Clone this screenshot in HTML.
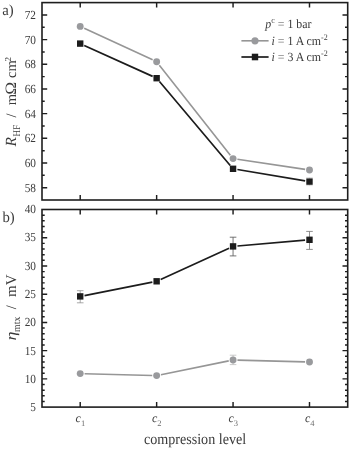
<!DOCTYPE html>
<html lang="en">
<head>
<meta charset="utf-8">
<title>Compression level figure</title>
<style>
html,body{margin:0;padding:0;background:#fff;}
body{width:350px;height:450px;overflow:hidden;}
svg{display:block;will-change:transform;}
.t text, .t tspan{font-family:"Liberation Serif","DejaVu Serif",serif;text-rendering:geometricPrecision;}
</style>
</head>
<body>
<svg width="350" height="450" viewBox="0 0 350 450">
<rect x="0" y="0" width="350" height="450" fill="#ffffff"/>
<rect x="42.0" y="2.6" width="305.70" height="197.40" fill="none" stroke="#1e1e1e" stroke-width="1.6"/>
<path d="M80.21 2.6v5M80.21 200.0v-5M156.64 2.6v5M156.64 200.0v-5M233.06 2.6v5M233.06 200.0v-5M309.49 2.6v5M309.49 200.0v-5M42.0 187.66h5.2M347.7 187.66h-5.2M42.0 162.99h5.2M347.7 162.99h-5.2M42.0 138.31h5.2M347.7 138.31h-5.2M42.0 113.64h5.2M347.7 113.64h-5.2M42.0 88.96h5.2M347.7 88.96h-5.2M42.0 64.29h5.2M347.7 64.29h-5.2M42.0 39.61h5.2M347.7 39.61h-5.2M42.0 14.94h5.2M347.7 14.94h-5.2M42.0 175.32h2.7M347.7 175.32h-2.7M42.0 150.65h2.7M347.7 150.65h-2.7M42.0 125.97h2.7M347.7 125.97h-2.7M42.0 101.30h2.7M347.7 101.30h-2.7M42.0 76.62h2.7M347.7 76.62h-2.7M42.0 51.95h2.7M347.7 51.95h-2.7M42.0 27.28h2.7M347.7 27.28h-2.7" fill="none" stroke="#1e1e1e" stroke-width="1.45"/>
<rect x="42.0" y="209.5" width="305.70" height="197.60" fill="none" stroke="#1e1e1e" stroke-width="1.6"/>
<path d="M80.21 209.5v5M80.21 407.1v-5M156.64 209.5v5M156.64 407.1v-5M233.06 209.5v5M233.06 407.1v-5M309.49 209.5v5M309.49 407.1v-5M42.0 378.87h5.2M347.7 378.87h-5.2M42.0 350.64h5.2M347.7 350.64h-5.2M42.0 322.41h5.2M347.7 322.41h-5.2M42.0 294.19h5.2M347.7 294.19h-5.2M42.0 265.96h5.2M347.7 265.96h-5.2M42.0 237.73h5.2M347.7 237.73h-5.2M42.0 401.45h2.7M347.7 401.45h-2.7M42.0 395.81h2.7M347.7 395.81h-2.7M42.0 390.16h2.7M347.7 390.16h-2.7M42.0 384.52h2.7M347.7 384.52h-2.7M42.0 373.23h2.7M347.7 373.23h-2.7M42.0 367.58h2.7M347.7 367.58h-2.7M42.0 361.93h2.7M347.7 361.93h-2.7M42.0 356.29h2.7M347.7 356.29h-2.7M42.0 345.00h2.7M347.7 345.00h-2.7M42.0 339.35h2.7M347.7 339.35h-2.7M42.0 333.71h2.7M347.7 333.71h-2.7M42.0 328.06h2.7M347.7 328.06h-2.7M42.0 316.77h2.7M347.7 316.77h-2.7M42.0 311.12h2.7M347.7 311.12h-2.7M42.0 305.48h2.7M347.7 305.48h-2.7M42.0 299.83h2.7M347.7 299.83h-2.7M42.0 288.54h2.7M347.7 288.54h-2.7M42.0 282.89h2.7M347.7 282.89h-2.7M42.0 277.25h2.7M347.7 277.25h-2.7M42.0 271.60h2.7M347.7 271.60h-2.7M42.0 260.31h2.7M347.7 260.31h-2.7M42.0 254.67h2.7M347.7 254.67h-2.7M42.0 249.02h2.7M347.7 249.02h-2.7M42.0 243.37h2.7M347.7 243.37h-2.7M42.0 232.08h2.7M347.7 232.08h-2.7M42.0 226.44h2.7M347.7 226.44h-2.7M42.0 220.79h2.7M347.7 220.79h-2.7M42.0 215.15h2.7M347.7 215.15h-2.7" fill="none" stroke="#1e1e1e" stroke-width="1.45"/>
<g class="t">
<text transform="translate(36.0,191.66) scale(0.92,1)" font-size="12.3" text-anchor="end" fill="#3a3a3a">58</text>
<text transform="translate(36.0,166.99) scale(0.92,1)" font-size="12.3" text-anchor="end" fill="#3a3a3a">60</text>
<text transform="translate(36.0,142.31) scale(0.92,1)" font-size="12.3" text-anchor="end" fill="#3a3a3a">62</text>
<text transform="translate(36.0,117.64) scale(0.92,1)" font-size="12.3" text-anchor="end" fill="#3a3a3a">64</text>
<text transform="translate(36.0,92.96) scale(0.92,1)" font-size="12.3" text-anchor="end" fill="#3a3a3a">66</text>
<text transform="translate(36.0,68.29) scale(0.92,1)" font-size="12.3" text-anchor="end" fill="#3a3a3a">68</text>
<text transform="translate(36.0,43.61) scale(0.92,1)" font-size="12.3" text-anchor="end" fill="#3a3a3a">70</text>
<text transform="translate(36.0,18.94) scale(0.92,1)" font-size="12.3" text-anchor="end" fill="#3a3a3a">72</text>
<text transform="translate(36.0,411.10) scale(0.92,1)" font-size="12.3" text-anchor="end" fill="#3a3a3a">5</text>
<text transform="translate(36.0,382.87) scale(0.92,1)" font-size="12.3" text-anchor="end" fill="#3a3a3a">10</text>
<text transform="translate(36.0,354.64) scale(0.92,1)" font-size="12.3" text-anchor="end" fill="#3a3a3a">15</text>
<text transform="translate(36.0,326.41) scale(0.92,1)" font-size="12.3" text-anchor="end" fill="#3a3a3a">20</text>
<text transform="translate(36.0,298.19) scale(0.92,1)" font-size="12.3" text-anchor="end" fill="#3a3a3a">25</text>
<text transform="translate(36.0,269.96) scale(0.92,1)" font-size="12.3" text-anchor="end" fill="#3a3a3a">30</text>
<text transform="translate(36.0,241.23) scale(0.92,1)" font-size="12.3" text-anchor="end" fill="#3a3a3a">35</text>
<text transform="translate(36.0,213.00) scale(0.92,1)" font-size="12.3" text-anchor="end" fill="#3a3a3a">40</text>
<text x="75.61" y="422.3" font-size="12" fill="#3a3a3a"><tspan font-style="italic">c</tspan><tspan font-size="8.5" dy="3.6" style="fill:#6e6e6e;stroke:none">1</tspan></text>
<text x="152.04" y="422.3" font-size="12" fill="#3a3a3a"><tspan font-style="italic">c</tspan><tspan font-size="8.5" dy="3.6" style="fill:#6e6e6e;stroke:none">2</tspan></text>
<text x="228.46" y="422.3" font-size="12" fill="#3a3a3a"><tspan font-style="italic">c</tspan><tspan font-size="8.5" dy="3.6" style="fill:#6e6e6e;stroke:none">3</tspan></text>
<text x="304.89" y="422.3" font-size="12" fill="#3a3a3a"><tspan font-style="italic">c</tspan><tspan font-size="8.5" dy="3.6" style="fill:#6e6e6e;stroke:none">4</tspan></text>
<text transform="translate(195,443.60) scale(0.91,1)" font-size="15.5" text-anchor="middle" fill="#3a3a3a">compression level</text>
<text transform="translate(2.2,15.40) scale(0.96,1)" font-size="15.3" text-anchor="start" fill="#3a3a3a">a)</text>
<text transform="translate(2.4,222.30) scale(0.96,1)" font-size="15.3" text-anchor="start" fill="#3a3a3a">b)</text>
<text transform="translate(15.7,146.5) rotate(-90) scale(1.0,1)" font-size="15.5" font-style="italic" fill="#3a3a3a">R</text>
<text transform="translate(19.599999999999998,136.4) rotate(-90) scale(0.88,1)" font-size="10.3" fill="#3a3a3a">HF</text>
<text transform="translate(15.7,117.4) rotate(-90) scale(1.0,1)" font-size="14.5" fill="#3a3a3a">/</text>
<text transform="translate(15.7,105.3) rotate(-90) scale(1.0,1)" font-size="14.5" fill="#3a3a3a">m</text>
<text transform="translate(15.7,94.7) rotate(-90) scale(1.1,1)" font-size="15.8" fill="#3a3a3a">Ω</text>
<text transform="translate(15.7,77.9) rotate(-90) scale(1.0,1)" font-size="14.5" fill="#3a3a3a">cm</text>
<text transform="translate(10.5,61.4) rotate(-90) scale(1.0,1)" font-size="9" fill="#3a3a3a">2</text>
<text transform="translate(15.7,340.4) rotate(-90) scale(1.2,1)" font-size="15" font-style="italic" fill="#3a3a3a">η</text>
<text transform="translate(19.799999999999997,331.9) rotate(-90) scale(0.95,1)" font-size="10.3" fill="#3a3a3a">mtx</text>
<text transform="translate(15.7,309.3) rotate(-90) scale(1.0,1)" font-size="14.5" fill="#3a3a3a">/</text>
<text transform="translate(15.7,297.0) rotate(-90) scale(1.0,1)" font-size="15" fill="#3a3a3a">mV</text>
<text transform="translate(265.3,28.0) scale(0.94,1)" font-size="12.6" fill="#3a3a3a"><tspan font-style="italic">p</tspan><tspan font-size="8.5" dy="-4.6">c</tspan><tspan dy="4.6" style="fill:#8a8a8a;stroke:none"> =</tspan><tspan> 1 bar</tspan></text>
<text transform="translate(271.6,44.5) scale(0.94,1)" font-size="12.6" fill="#3a3a3a"><tspan font-style="italic">i</tspan><tspan style="fill:#8a8a8a;stroke:none"> =</tspan><tspan> 1 A cm</tspan><tspan font-size="8.5" dy="-4.6">-2</tspan></text>
<text transform="translate(271.6,60.6) scale(0.94,1)" font-size="12.6" fill="#3a3a3a"><tspan font-style="italic">i</tspan><tspan style="fill:#8a8a8a;stroke:none"> =</tspan><tspan> 3 A cm</tspan><tspan font-size="8.5" dy="-4.6">-2</tspan></text>
</g>
<path d="M241.4 40.8H268.6" stroke="#969696" stroke-width="1.6"/>
<circle cx="255" cy="40.8" r="3.6" fill="#999a9d"/>
<path d="M241.4 57.0H268.6" stroke="#1c1c1c" stroke-width="1.7"/>
<rect x="251.8" y="53.7" width="6.4" height="6.6" fill="#1c1c1c"/>
<path d="M84.21 28.25L152.64 59.85M159.36 65.15L230.34 155.15M237.41 159.25L305.14 169.35" fill="none" stroke="#969696" stroke-width="1.6"/>
<path d="M84.22 45.41L152.63 76.39M159.47 81.56L230.23 165.44M237.40 169.53L305.15 180.87" fill="none" stroke="#1c1c1c" stroke-width="1.7"/>
<path d="M309.49 177.60V185.60M306.19 177.60h6.6M306.19 185.60h6.6" fill="none" stroke="#bdbdbd" stroke-width="0.5"/>
<circle cx="80.21" cy="26.40" r="3.45" fill="#999a9d"/>
<circle cx="156.64" cy="61.70" r="3.45" fill="#999a9d"/>
<circle cx="233.06" cy="158.60" r="3.45" fill="#999a9d"/>
<circle cx="309.49" cy="170.00" r="3.45" fill="#999a9d"/>
<rect x="77.01" y="40.40" width="6.4" height="6.4" fill="#1c1c1c"/>
<rect x="153.44" y="75.00" width="6.4" height="6.4" fill="#1c1c1c"/>
<rect x="229.86" y="165.60" width="6.4" height="6.4" fill="#1c1c1c"/>
<rect x="306.29" y="178.40" width="6.4" height="6.4" fill="#1c1c1c"/>
<path d="M84.61 373.72L152.24 375.48M160.95 374.72L228.75 360.88M237.46 360.12L305.09 361.88" fill="none" stroke="#969696" stroke-width="1.6"/>
<path d="M84.53 295.55L152.32 282.15M160.64 279.47L229.06 248.23M237.45 246.02L305.10 240.18" fill="none" stroke="#1c1c1c" stroke-width="1.7"/>
<path d="M80.21 290.70V302.80M76.91 290.70h6.6M76.91 302.80h6.6" fill="none" stroke="#8c8c8c" stroke-width="0.75"/>
<path d="M233.06 237.20V255.90M229.76 237.20h6.6M229.76 255.90h6.6" fill="none" stroke="#5c5c5c" stroke-width="0.85"/>
<path d="M309.49 231.40V249.40M306.19 231.40h6.6M306.19 249.40h6.6" fill="none" stroke="#7c7c7c" stroke-width="0.85"/>
<path d="M233.06 355.20V364.60M229.76 355.20h6.6M229.76 364.60h6.6" fill="none" stroke="#b4b4b4" stroke-width="0.7"/>
<circle cx="80.21" cy="373.60" r="3.45" fill="#999a9d"/>
<circle cx="156.64" cy="375.60" r="3.45" fill="#999a9d"/>
<circle cx="233.06" cy="360.00" r="3.45" fill="#999a9d"/>
<circle cx="309.49" cy="362.00" r="3.45" fill="#999a9d"/>
<rect x="77.01" y="293.20" width="6.4" height="6.4" fill="#1c1c1c"/>
<rect x="153.44" y="278.10" width="6.4" height="6.4" fill="#1c1c1c"/>
<rect x="229.86" y="243.20" width="6.4" height="6.4" fill="#1c1c1c"/>
<rect x="306.29" y="236.60" width="6.4" height="6.4" fill="#1c1c1c"/>
</svg>
</body>
</html>
